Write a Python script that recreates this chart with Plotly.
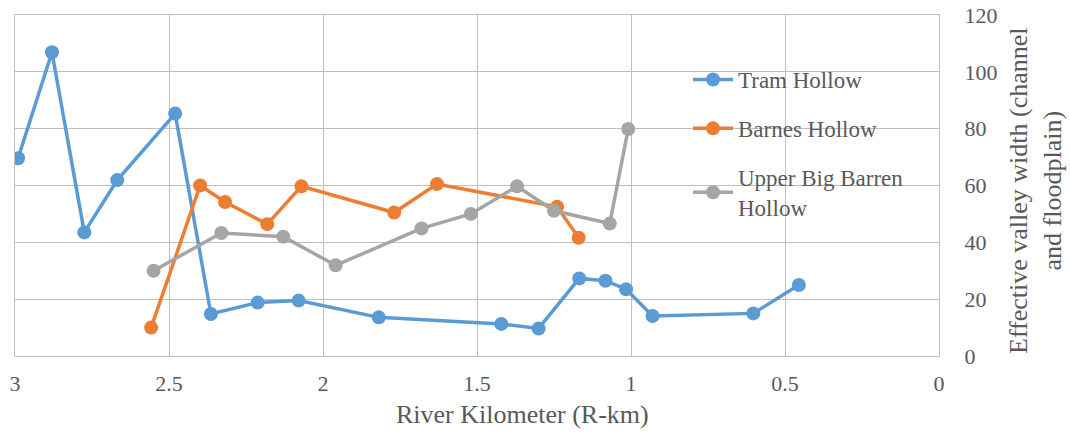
import plotly.graph_objects as go

# River kilometer (x) and effective valley width (y) per series
tram_x = [2.99, 2.88, 2.775, 2.668, 2.48, 2.364, 2.212, 2.079, 1.819, 1.421, 1.30, 1.168, 1.083, 1.016, 0.93, 0.603, 0.455]
tram_y = [69.6, 106.9, 43.5, 61.9, 85.3, 14.8, 18.8, 19.5, 13.6, 11.3, 9.7, 27.3, 26.5, 23.5, 14.1, 15.0, 25.0]

barnes_x = [2.558, 2.399, 2.318, 2.181, 2.07, 1.769, 1.63, 1.24, 1.17]
barnes_y = [10.0, 60.0, 54.2, 46.4, 59.7, 50.5, 60.5, 52.5, 41.6]

ubb_x = [2.55, 2.33, 2.129, 1.959, 1.68, 1.52, 1.37, 1.25, 1.069, 1.009]
ubb_y = [30.0, 43.3, 42.0, 31.9, 44.9, 50.0, 59.7, 51.1, 46.6, 79.9]

x_ticks = [3, 2.5, 2, 1.5, 1, 0.5, 0]
x_tick_labels = ["3", "2.5", "2", "1.5", "1", "0.5", "0"]
y_ticks = [0, 20, 40, 60, 80, 100, 120]

FONT = "Liberation Serif"
TXT = "#595959"
GRID = "#BFBFBF"

fig = go.Figure()
series = [
    ("Tram Hollow", tram_x, tram_y, "#5B9BD5"),
    ("Barnes Hollow", barnes_x, barnes_y, "#ED7D31"),
    ("Upper Big Barren<br>Hollow", ubb_x, ubb_y, "#A5A5A5"),
]
for i, (name, xs, ys, col) in enumerate(series):
    fig.add_trace(go.Scatter(
        x=xs, y=ys, name=name, mode="lines+markers",
        line=dict(color=col, width=3.5),
        marker=dict(color=col, size=14),
        legendgroup=f"g{i}",
    ))

fig.update_layout(
    width=1070, height=437,
    margin=dict(l=15, r=131, t=15, b=81, autoexpand=False),
    paper_bgcolor="white", plot_bgcolor="white",
    font=dict(family=FONT, color=TXT, size=22),
    showlegend=True,
    legend=dict(
        x=(688 - 15) / 924, y=(356 - 58) / 341, xanchor="left", yanchor="top",
        bgcolor="rgba(0,0,0,0)", font=dict(size=23, color=TXT, family=FONT),
        tracegroupgap=16, itemwidth=40, traceorder="grouped",
    ),
    xaxis=dict(
        range=[3, 0], tickvals=x_ticks, ticktext=x_tick_labels,
        showgrid=True, gridcolor=GRID, gridwidth=1, zeroline=False,
        showline=True, linecolor=GRID, mirror=True, automargin=False,
        ticks="", ticklabelstandoff=8,
        tickfont=dict(size=22, color=TXT, family=FONT),
    ),
    yaxis=dict(
        range=[0, 120], tickvals=y_ticks, side="right",
        showgrid=True, gridcolor=GRID, gridwidth=1, zeroline=False,
        showline=True, linecolor=GRID, mirror=True, automargin=False,
        ticks="", ticklabelstandoff=20,
        tickfont=dict(size=22, color=TXT, family=FONT),
    ),
    annotations=[
        dict(text="River Kilometer (R-km)", xref="paper", yref="paper",
             x=(522 - 15) / 924, y=(356 - 414) / 341, xanchor="center", yanchor="middle",
             showarrow=False, font=dict(size=26, color=TXT, family=FONT)),
        dict(text="Effective valley width (channel<br>and floodplain)", xref="paper", yref="paper",
             x=(1035 - 15) / 924, y=(356 - 191) / 341, xanchor="center", yanchor="middle",
             textangle=-90, showarrow=False, font=dict(size=26, color=TXT, family=FONT)),
    ],
)

fig.write_html("out.html")
